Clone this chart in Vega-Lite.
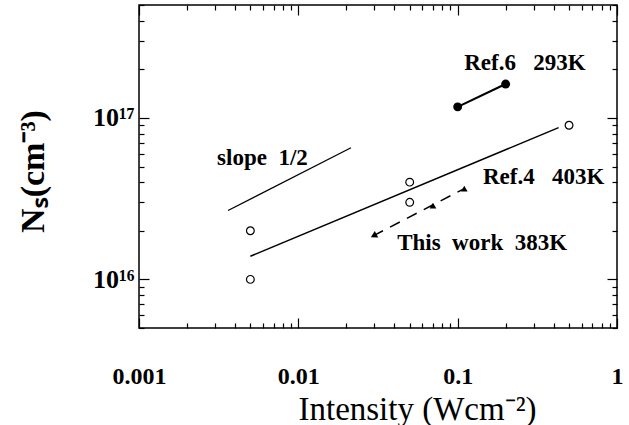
{
  "$schema": "https://vega.github.io/schema/vega-lite/v6.json",
  "autosize": "none",
  "width": 478,
  "height": 323,
  "padding": {"left": 139, "top": 5, "right": 12, "bottom": 97},
  "background": "white",
  "config": {
    "view": {"stroke": "black", "strokeWidth": 1.5},
    "axis": {"domain": false, "grid": false, "tickColor": "black", "tickWidth": 1.2, "labelColor": "black", "titleColor": "black"}
  },
  "datasets": {
    "ref4fit": [{"x": 0.005, "y": 1.39e16}, {"x": 0.43, "y": 8.7e16}],
    "slope": [{"x": 0.00362, "y": 2.67e16}, {"x": 0.0214, "y": 6.53e16}],
    "ref6": [{"x": 0.1, "y": 1.17e17}, {"x": 0.2, "y": 1.62e17}],
    "ref4pts": [{"x": 0.005, "y": 2e16}, {"x": 0.005, "y": 1e16}, {"x": 0.05, "y": 4e16}, {"x": 0.05, "y": 3e16}, {"x": 0.5, "y": 9e16}],
    "thiswork": [{"x": 0.07, "y": 2.86e16}, {"x": 0.11, "y": 3.65e16}],
    "dash": [{"x": 0.0295, "y": 1.86e16}, {"x": 0.11, "y": 3.65e16}],
    "arrow": [{"x": 0.0297, "y": 1.86e16}],
    "labels": [
      {"x": 0.11, "y": 2.18e17, "text": "Ref.6\u00a0\u00a0 293K"},
      {"x": 0.00309, "y": 5.66e16, "text": "slope\u00a0 1/2"},
      {"x": 0.144, "y": 4.32e16, "text": "Ref.4\u00a0\u00a0 403K"},
      {"x": 0.0417, "y": 1.69e16, "text": "This\u00a0 work\u00a0 383K"}
    ]
  },
  "resolve": {"axis": {"x": "independent", "y": "independent"}},
  "layer": [
    {
      "data": {"name": "ref4fit"},
      "mark": {"type": "line", "color": "black", "strokeWidth": 1.5},
      "encoding": {
        "x": {"field": "x", "type": "quantitative", "scale": {"type": "log", "domain": [0.001, 1], "nice": false},
          "axis": {"orient": "bottom", "values": [0.001, 0.01, 0.1, 1], "tickSize": -10,
            "format": "~g",
            "labelFont": "Liberation Serif", "labelFontWeight": "bold", "labelFontSize": 24, "labelPadding": 46, "labelBaseline": "top", "labelFlush": false,
            "title": "Intensity (Wcm\u207b\u00b2)", "titleFont": "Liberation Serif", "titleFontWeight": "normal", "titleFontSize": 33,
            "titleX": 278, "titleY": 91, "titleBaseline": "alphabetic", "titleAlign": "center"}},
        "y": {"field": "y", "type": "quantitative", "scale": {"type": "log", "domain": [5e15, 5e17], "nice": false},
          "axis": {"orient": "left", "values": [1e16, 1e17], "tickSize": -10,
            "labelExpr": "abs(log(datum.value)/LN10 - 16) < 1e-6 ? '10\u00b9\u2076' : '10\u00b9\u2077'",
            "labelFont": "Liberation Serif", "labelFontWeight": "bold", "labelFontSize": 26, "labelPadding": 15,
            "title": "N\u209b(cm\u207b\u00b3)", "titleFont": "Liberation Serif", "titleFontWeight": "bold", "titleFontSize": 34,
            "titleX": -106, "titleY": 166, "titleAngle": -90, "titleAlign": "center", "titleBaseline": "middle"}}
      }
    },
    {
      "data": {"name": "slope"},
      "mark": {"type": "line", "color": "black", "strokeWidth": 1.3},
      "encoding": {
        "x": {"field": "x", "type": "quantitative", "scale": {"type": "log", "domain": [0.001, 1], "nice": false},
          "axis": {"orient": "bottom", "labels": false, "title": null, "tickSize": -5, "values": [0.002,0.003,0.004,0.005,0.006,0.007,0.008,0.009,0.02,0.03,0.04,0.05,0.06,0.07,0.08,0.09,0.2,0.3,0.4,0.5,0.6,0.7,0.8,0.9]}},
        "y": {"field": "y", "type": "quantitative", "scale": {"type": "log", "domain": [5e15, 5e17], "nice": false},
          "axis": {"orient": "left", "labels": false, "title": null, "tickSize": -5, "values": [5e15,6e15,7e15,8e15,9e15,2e16,3e16,4e16,5e16,6e16,7e16,8e16,9e16,2e17,3e17,4e17,5e17]}}
      }
    },
    {
      "data": {"name": "ref6"},
      "mark": {"type": "line", "color": "black", "strokeWidth": 2.2, "point": {"filled": true, "color": "black", "size": 80}},
      "encoding": {
        "x": {"field": "x", "type": "quantitative",
          "axis": {"orient": "top", "labels": false, "title": null, "tickSize": -10, "values": [0.001, 0.01, 0.1, 1]}},
        "y": {"field": "y", "type": "quantitative",
          "axis": {"orient": "right", "labels": false, "title": null, "tickSize": -10, "values": [1e16, 1e17]}}
      }
    },
    {
      "data": {"name": "dash"},
      "mark": {"type": "line", "color": "black", "strokeWidth": 1.5, "strokeDash": [11, 8]},
      "encoding": {
        "x": {"field": "x", "type": "quantitative",
          "axis": {"orient": "top", "labels": false, "title": null, "tickSize": -5, "values": [0.002,0.003,0.004,0.005,0.006,0.007,0.008,0.009,0.02,0.03,0.04,0.05,0.06,0.07,0.08,0.09,0.2,0.3,0.4,0.5,0.6,0.7,0.8,0.9]}},
        "y": {"field": "y", "type": "quantitative",
          "axis": {"orient": "right", "labels": false, "title": null, "tickSize": -5, "values": [5e15,6e15,7e15,8e15,9e15,2e16,3e16,4e16,5e16,6e16,7e16,8e16,9e16,2e17,3e17,4e17,5e17]}}
      }
    },
    {
      "data": {"name": "thiswork"},
      "mark": {"type": "point", "shape": "triangle-up", "filled": true, "color": "black", "size": 45, "opacity": 1},
      "encoding": {"x": {"field": "x", "type": "quantitative", "axis": null}, "y": {"field": "y", "type": "quantitative", "axis": null}}
    },
    {
      "data": {"name": "arrow"},
      "mark": {"type": "point", "shape": "triangle-up", "filled": true, "color": "black", "size": 55, "angle": 242, "opacity": 1},
      "encoding": {"x": {"field": "x", "type": "quantitative", "axis": null}, "y": {"field": "y", "type": "quantitative", "axis": null}}
    },
    {
      "data": {"name": "ref4pts"},
      "mark": {"type": "point", "shape": "circle", "filled": false, "color": "black", "size": 60, "strokeWidth": 1.2, "opacity": 1},
      "encoding": {"x": {"field": "x", "type": "quantitative", "axis": null}, "y": {"field": "y", "type": "quantitative", "axis": null}}
    },
    {
      "data": {"name": "labels"},
      "mark": {"type": "text", "align": "left", "baseline": "middle", "font": "Liberation Serif", "fontWeight": "bold", "fontSize": 23, "color": "black"},
      "encoding": {"x": {"field": "x", "type": "quantitative", "axis": null}, "y": {"field": "y", "type": "quantitative", "axis": null}, "text": {"field": "text"}}
    }
  ]
}
